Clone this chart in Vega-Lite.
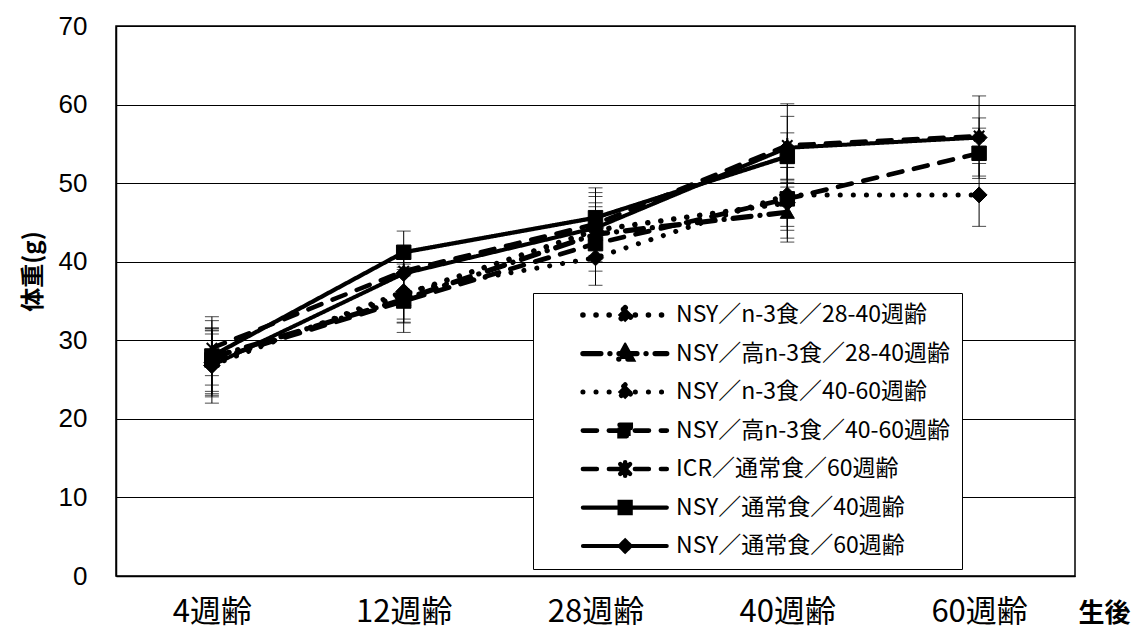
{
  "$schema": "https://vega.github.io/schema/vega-lite/v6.json",
  "width": 959,
  "height": 550,
  "autosize": {"type": "none"},
  "padding": {"left": 116, "top": 26, "right": 64, "bottom": 57},
  "background": "white",
  "config": {
    "view": {"stroke": "black", "strokeWidth": 1.5},
    "axis": {"domainColor": "black", "domainWidth": 1.5, "labelColor": "black", "titleColor": "black"}
  },
  "data": {
    "values": [
      {"s": "NSY／n-3食／28-40週齢", "age": "4週齢", "v": 27.2, "lo": 23.2, "hi": 31.2},
      {"s": "NSY／n-3食／28-40週齢", "age": "12週齢", "v": 35.8, "lo": 32.3, "hi": 39.3},
      {"s": "NSY／n-3食／28-40週齢", "age": "28週齢", "v": 44.0, "lo": 40.5, "hi": 47.5},
      {"s": "NSY／n-3食／28-40週齢", "age": "40週齢", "v": 47.5, "lo": 43.0, "hi": 52.0},
      {"s": "NSY／高n-3食／28-40週齢", "age": "4週齢", "v": 27.8, "lo": 24.3, "hi": 31.3},
      {"s": "NSY／高n-3食／28-40週齢", "age": "12週齢", "v": 35.2, "lo": 32.2, "hi": 38.2},
      {"s": "NSY／高n-3食／28-40週齢", "age": "28週齢", "v": 43.5, "lo": 40.0, "hi": 47.0},
      {"s": "NSY／高n-3食／28-40週齢", "age": "40週齢", "v": 46.3, "lo": 42.5, "hi": 50.1},
      {"s": "NSY／n-3食／40-60週齢", "age": "4週齢", "v": 26.8, "lo": 22.0, "hi": 31.6},
      {"s": "NSY／n-3食／40-60週齢", "age": "12週齢", "v": 36.2, "lo": 32.7, "hi": 39.7},
      {"s": "NSY／n-3食／40-60週齢", "age": "28週齢", "v": 40.5, "lo": 37.0, "hi": 44.0},
      {"s": "NSY／n-3食／40-60週齢", "age": "40週齢", "v": 48.5, "lo": 44.5, "hi": 52.5},
      {"s": "NSY／n-3食／40-60週齢", "age": "60週齢", "v": 48.5, "lo": 44.5, "hi": 52.5},
      {"s": "NSY／高n-3食／40-60週齢", "age": "4週齢", "v": 27.5, "lo": 23.5, "hi": 31.5},
      {"s": "NSY／高n-3食／40-60週齢", "age": "12週齢", "v": 35.0, "lo": 31.0, "hi": 39.0},
      {"s": "NSY／高n-3食／40-60週齢", "age": "28週齢", "v": 42.3, "lo": 38.8, "hi": 45.8},
      {"s": "NSY／高n-3食／40-60週齢", "age": "40週齢", "v": 48.0, "lo": 44.0, "hi": 52.0},
      {"s": "NSY／高n-3食／40-60週齢", "age": "60週齢", "v": 53.8, "lo": 50.6, "hi": 57.0},
      {"s": "ICR／通常食／60週齢", "age": "4週齢", "v": 29.0, "lo": 25.5, "hi": 32.5},
      {"s": "ICR／通常食／60週齢", "age": "12週齢", "v": 38.8, "lo": 35.8, "hi": 41.8},
      {"s": "ICR／通常食／60週齢", "age": "28週齢", "v": 44.8, "lo": 40.8, "hi": 48.8},
      {"s": "ICR／通常食／60週齢", "age": "40週齢", "v": 54.8, "lo": 49.5, "hi": 60.1},
      {"s": "ICR／通常食／60週齢", "age": "60週齢", "v": 56.0, "lo": 50.9, "hi": 61.1},
      {"s": "NSY／通常食／40週齢", "age": "4週齢", "v": 28.0, "lo": 23.0, "hi": 33.0},
      {"s": "NSY／通常食／40週齢", "age": "12週齢", "v": 41.2, "lo": 38.5, "hi": 43.9},
      {"s": "NSY／通常食／40週齢", "age": "28週齢", "v": 45.6, "lo": 41.8, "hi": 49.4},
      {"s": "NSY／通常食／40週齢", "age": "40週齢", "v": 53.4, "lo": 50.4, "hi": 56.4},
      {"s": "NSY／通常食／60週齢", "age": "4週齢", "v": 26.8, "lo": 22.8, "hi": 30.8},
      {"s": "NSY／通常食／60週齢", "age": "12週齢", "v": 38.5, "lo": 35.5, "hi": 41.5},
      {"s": "NSY／通常食／60週齢", "age": "28週齢", "v": 44.3, "lo": 40.3, "hi": 48.3},
      {"s": "NSY／通常食／60週齢", "age": "40週齢", "v": 54.5, "lo": 50.5, "hi": 58.5},
      {"s": "NSY／通常食／60週齢", "age": "60週齢", "v": 55.8, "lo": 53.3, "hi": 58.3}
    ]
  },
  "encoding": {
    "x": {
      "field": "age", "type": "ordinal",
      "scale": {"type": "point", "padding": 0.5, "domain": ["4週齢", "12週齢", "28週齢", "40週齢", "60週齢"]},
      "axis": {
        "title": "生後", "labelAngle": 0, "ticks": false, "tickSize": 0, "labelPadding": 21,
        "labelFont": "Noto Sans CJK JP", "labelFontSize": 31,
        "titleFont": "Noto Sans CJK JP", "titleFontSize": 26, "titleFontWeight": "bold",
        "titleX": 988, "titleY": 24, "titleAlign": "center", "titleBaseline": "top",
        "grid": false
      }
    }
  },
  "layer": [
    {
      "mark": {"type": "rule", "color": "black", "strokeWidth": 1},
      "encoding": {
        "y": {"field": "lo", "type": "quantitative"},
        "y2": {"field": "hi"}
      }
    },
    {
      "mark": {"type": "tick", "color": "black", "thickness": 1, "size": 14},
      "encoding": {"y": {"field": "lo", "type": "quantitative"}}
    },
    {
      "mark": {"type": "tick", "color": "black", "thickness": 1, "size": 14},
      "encoding": {"y": {"field": "hi", "type": "quantitative"}}
    },
    {
      "mark": {"type": "line", "color": "black", "strokeCap": "round", "strokeJoin": "round"},
      "encoding": {
        "y": {
          "field": "v", "type": "quantitative",
          "scale": {"domain": [0, 70], "nice": false, "zero": true},
          "axis": {
            "title": "体重(g)", "values": [0, 10, 20, 30, 40, 50, 60, 70],
            "ticks": false, "tickSize": 0, "labelPadding": 29,
            "labelFont": "Liberation Sans", "labelFontSize": 26,
            "grid": true, "gridColor": "black", "gridWidth": 1.2, "gridOpacity": 1,
            "titleFont": "Noto Sans CJK JP", "titleFontSize": 24, "titleFontWeight": "bold",
            "titleX": -83, "titleY": 245, "titleAlign": "center", "titleBaseline": "middle", "titleAngle": -90
          }
        },
        "strokeWidth": {
          "field": "s", "type": "nominal", "legend": null,
          "scale": {
            "domain": ["NSY／n-3食／28-40週齢", "NSY／高n-3食／28-40週齢", "NSY／n-3食／40-60週齢", "NSY／高n-3食／40-60週齢", "ICR／通常食／60週齢", "NSY／通常食／40週齢", "NSY／通常食／60週齢"],
            "range": [5.5, 4, 5.5, 4, 4, 4, 3.5]
          }
        },
        "strokeDash": {
          "field": "s", "type": "nominal",
          "scale": {
            "domain": ["NSY／n-3食／28-40週齢", "NSY／高n-3食／28-40週齢", "NSY／n-3食／40-60週齢", "NSY／高n-3食／40-60週齢", "ICR／通常食／60週齢", "NSY／通常食／40週齢", "NSY／通常食／60週齢"],
            "range": [[0.1, 13], [18, 9, 0.1, 9], [0.1, 13], [14, 12], [14, 12], [1, 0], [1, 0]]
          },
          "legend": {
            "orient": "none", "legendX": 417, "legendY": 267, "title": null,
            "padding": 11, "rowPadding": 15.5, "clipHeight": 22,
            "symbolSize": 15006, "symbolStrokeWidth": 4, "symbolStrokeColor": "black",
            "labelOffset": 4, "labelFont": "Noto Sans CJK JP", "labelFontSize": 23, "labelColor": "black", "labelLimit": 500,
            "strokeColor": "black", "fillColor": "white", "cornerRadius": 0,
            "encoding": {
              "symbols": {
                "shape": {"value": {"signal": "['M-0.41,0H0.96 M0.28,-0.12L0.4,0L0.28,0.12L0.16,0Z','M-0.41,0H0.96 M0.28,-0.11L0.39,0.09L0.17,0.09Z','M-0.41,0H0.96 M0.28,-0.12L0.4,0L0.28,0.12L0.16,0Z','M-0.41,0H0.96 M0.19,-0.09H0.37V0.09H0.19Z','M-0.41,0H0.96 M0.2,-0.08L0.36,0.08M0.2,0.08L0.36,-0.08M0.28,-0.11V0.11','M-0.41,0H0.96 M0.19,-0.09H0.37V0.09H0.19Z','M-0.41,0H0.96 M0.28,-0.09L0.37,0L0.28,0.09L0.19,0Z'][indexof(domain('strokeDash'), datum.value)]"}},
                "fill": {"value": "black"},
                "stroke": {"value": "black"},
                "strokeCap": {"value": "round"},
                "opacity": {"value": 1}
              }
            }
          }
        }
      }
    },
    {
      "transform": [{"filter": {"field": "s", "oneOf": ["NSY／n-3食／28-40週齢", "NSY／n-3食／40-60週齢", "NSY／通常食／60週齢"]}}],
      "mark": {"type": "point", "shape": "diamond", "filled": true, "fill": "black", "stroke": "black", "strokeWidth": 1, "size": 256, "opacity": 1},
      "encoding": {"y": {"field": "v", "type": "quantitative"}}
    },
    {
      "transform": [{"filter": {"field": "s", "oneOf": ["NSY／高n-3食／28-40週齢"]}}],
      "mark": {"type": "point", "shape": "triangle-up", "filled": true, "fill": "black", "stroke": "black", "strokeWidth": 1, "size": 200, "opacity": 1},
      "encoding": {"y": {"field": "v", "type": "quantitative"}}
    },
    {
      "transform": [{"filter": {"field": "s", "oneOf": ["NSY／高n-3食／40-60週齢", "NSY／通常食／40週齢"]}}],
      "mark": {"type": "point", "shape": "square", "filled": true, "fill": "black", "stroke": "black", "strokeWidth": 1, "size": 210, "opacity": 1},
      "encoding": {"y": {"field": "v", "type": "quantitative"}}
    },
    {
      "transform": [{"filter": {"field": "s", "oneOf": ["ICR／通常食／60週齢"]}}],
      "mark": {"type": "point", "shape": "M-0.7,-0.7L0.7,0.7M-0.7,0.7L0.7,-0.7M0,-1V1", "filled": false, "stroke": "black", "strokeWidth": 2, "size": 220, "opacity": 1},
      "encoding": {"y": {"field": "v", "type": "quantitative"}}
    }
  ]
}
